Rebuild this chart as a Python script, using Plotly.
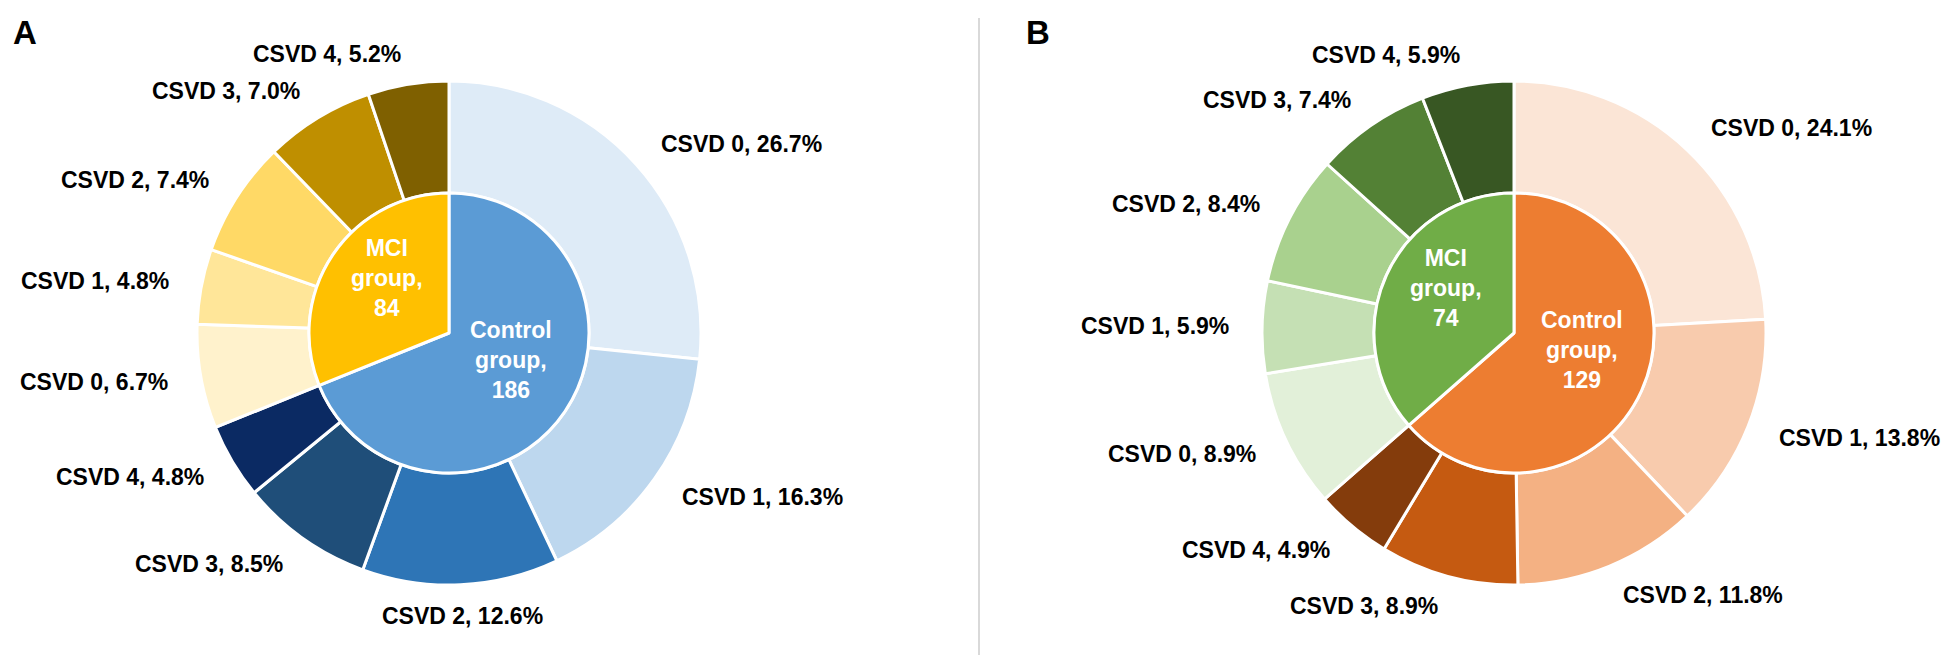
import numpy as np
import plotly.graph_objects as go

W, H = 1950, 655

groups = ["Control group", "MCI group"]
csvd = ["CSVD 0", "CSVD 1", "CSVD 2", "CSVD 3", "CSVD 4"]

# panel A counts (n=270)
a_control = [72, 44, 34, 23, 13]
a_mci = [18, 13, 20, 19, 14]
# panel B counts (n=203)
b_control = [49, 28, 24, 18, 10]
b_mci = [18, 12, 17, 15, 12]

a_inner_colors = ["#5B9BD5", "#FFC000"]
a_outer_colors = ["#DEEBF7", "#BDD7EE", "#2E75B6", "#1F4E79", "#0B2A63",
                  "#FFF2CC", "#FFE699", "#FFD966", "#BF8F00", "#7F6000"]
b_inner_colors = ["#ED7D31", "#70AD47"]
b_outer_colors = ["#FBE5D6", "#F8CBAD", "#F4B183", "#C55A11", "#843C0C",
                  "#E2F0D9", "#C5E0B4", "#A9D18E", "#538135", "#385723"]

FONT = "Liberation Sans, Arial, sans-serif"
R_OUT = 252   # px
R_IN = 140    # px
CY = 325

fig = go.Figure()
annotations = []


def add_panel(cx, cy, control, mci, inner_cols, outer_cols):
    total = sum(control) + sum(mci)
    outer_vals = control + mci
    outer_labels = [c + " (Control)" for c in csvd] + [c + " (MCI)" for c in csvd]
    # outer ring
    fig.add_trace(go.Pie(
        values=outer_vals, labels=outer_labels, sort=False,
        direction="clockwise", rotation=0, hole=R_IN / R_OUT,
        marker=dict(colors=outer_cols, line=dict(color="white", width=3)),
        textinfo="none", hoverinfo="label+value", showlegend=False,
        domain=dict(x=[(cx - R_OUT) / W, (cx + R_OUT) / W],
                    y=[1 - (cy + R_OUT) / H, 1 - (cy - R_OUT) / H]),
    ))
    # inner pie
    inner_vals = [sum(control), sum(mci)]
    fig.add_trace(go.Pie(
        values=inner_vals, labels=groups, sort=False,
        direction="clockwise", rotation=0,
        marker=dict(colors=inner_cols, line=dict(color="white", width=3)),
        textinfo="none", hoverinfo="label+value", showlegend=False,
        domain=dict(x=[(cx - R_IN) / W, (cx + R_IN) / W],
                    y=[1 - (cy + R_IN) / H, 1 - (cy - R_IN) / H]),
    ))
    # inner labels
    cum = 0
    for g, v in zip(groups, inner_vals):
        mid = (cum + v / 2) / total * 2 * np.pi
        cum += v
        r = R_IN * 0.53
        x = cx + r * np.sin(mid)
        y = cy - r * np.cos(mid) - 14
        name, word = g.split(" ")
        annotations.append(dict(
            x=x / W, y=1 - y / H, xref="paper", yref="paper",
            text="%s<br>%s,<br>%d" % (name, word, v), showarrow=False,
            font=dict(family=FONT, size=23, color="white", weight="bold"),
            align="center", xanchor="center", yanchor="middle"))
    # outer labels
    cum = 0
    for i, v in enumerate(outer_vals):
        mid = (cum + v / 2) / total * 2 * np.pi
        cum += v
        r = R_OUT + 31
        s, c = np.sin(mid), np.cos(mid)
        x = cx + r * s
        y = cy - r * c
        if abs(s) < 0.1:
            xa = "center"
        elif s > 0:
            xa = "left"
        else:
            xa = "right"
        annotations.append(dict(
            x=x / W, y=1 - y / H, xref="paper", yref="paper",
            text="%s, %.1f%%" % (csvd[i % 5], 100 * v / total), showarrow=False,
            font=dict(family=FONT, size=23, color="black", weight="bold"),
            xanchor=xa, yanchor="middle"))


add_panel(441, CY, a_control, a_mci, a_inner_colors, a_outer_colors)
add_panel(1506, CY, b_control, b_mci, b_inner_colors, b_outer_colors)

for letter, lx in [("A", 3), ("B", 1016)]:
    annotations.append(dict(
        x=lx / W, y=1 - 4 / H, xref="paper", yref="paper", text=letter,
        showarrow=False, xanchor="left", yanchor="top",
        font=dict(family=FONT, size=33, color="black", weight="bold")))

fig.update_layout(
    width=W, height=H,
    margin=dict(l=0, r=0, t=0, b=0),
    paper_bgcolor="white", plot_bgcolor="white",
    annotations=annotations,
    shapes=[dict(type="line", xref="paper", yref="paper",
                 x0=971 / W, x1=971 / W, y0=1 - 648 / H, y1=1 - 10 / H,
                 line=dict(color="#D9D9D9", width=2))],
)

fig.write_html("out.html")
